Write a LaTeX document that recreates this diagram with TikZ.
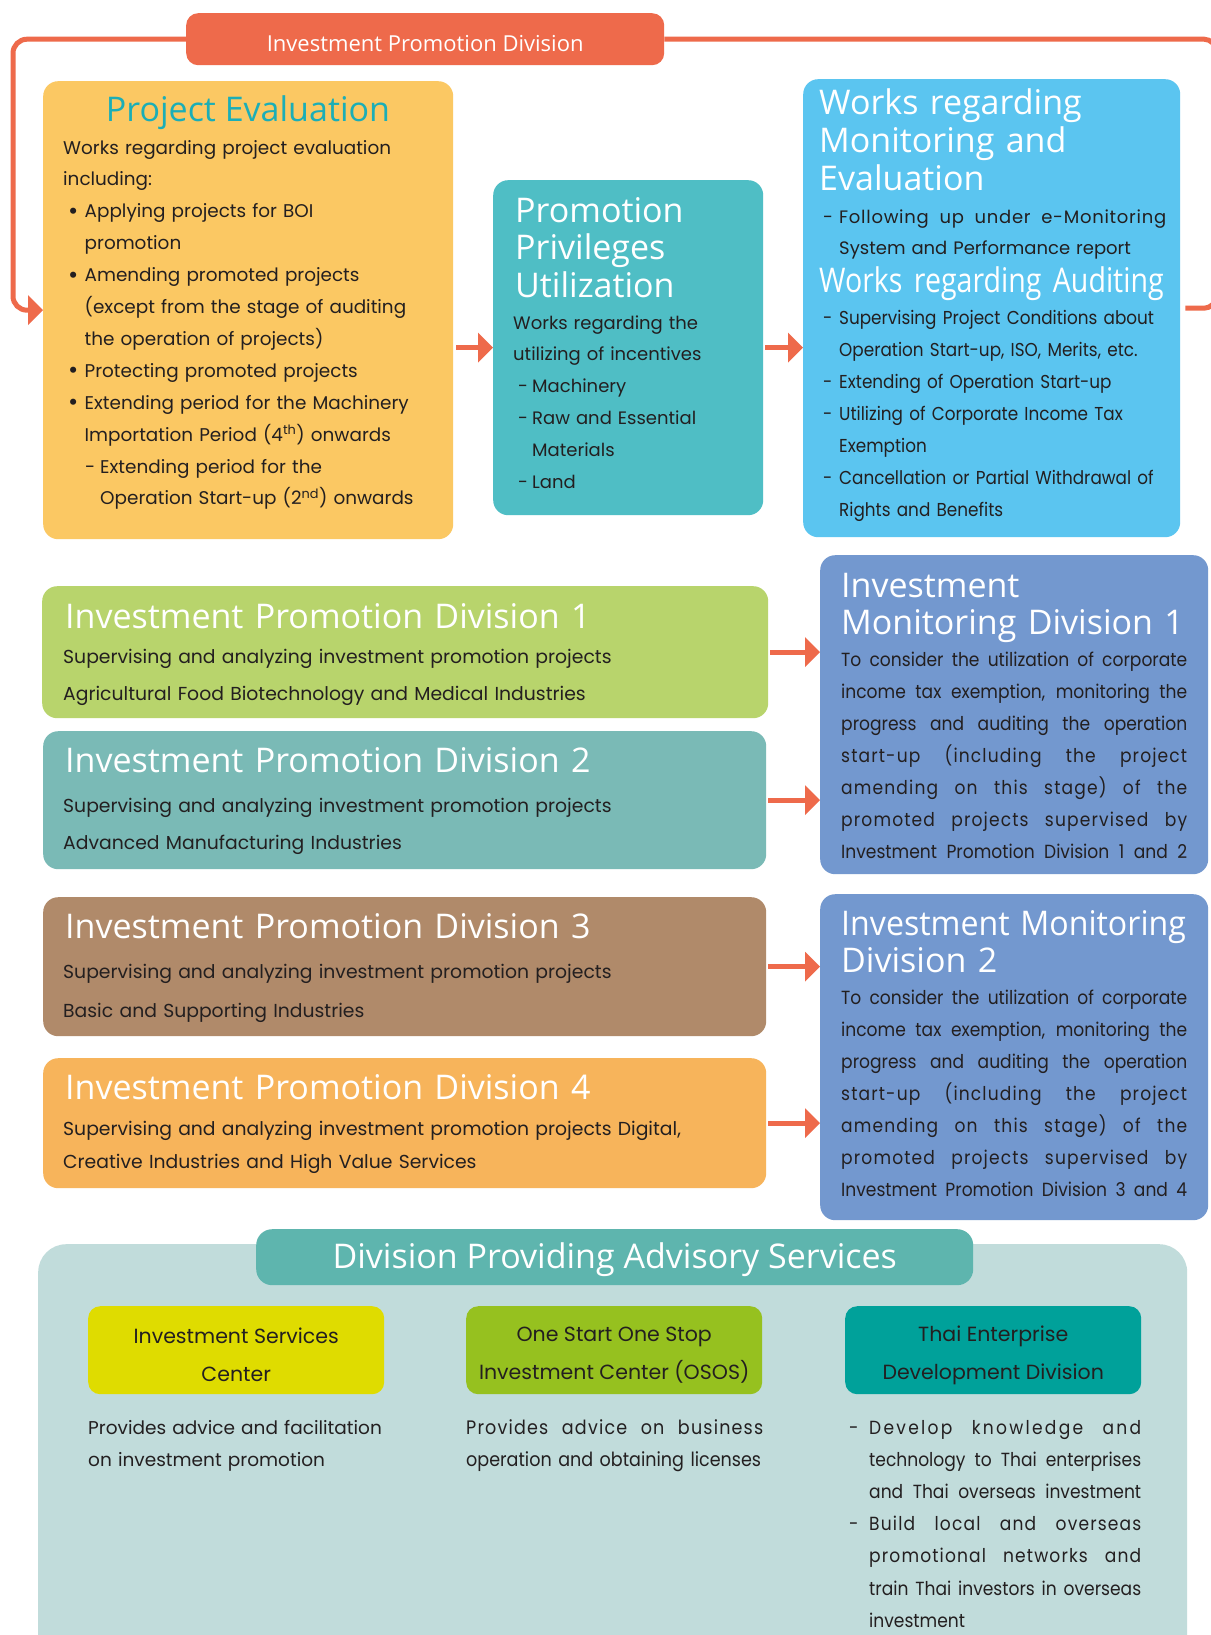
\documentclass[tikz,border=0pt]{standalone}
\usepackage{fontspec}
\setmainfont{Poppins}
\newfontfamily\headfont{Open Sans}
\newfontfamily\headcond[FakeStretch=0.84]{Open Sans}
\newfontfamily\bodycond[FakeStretch=0.9]{Poppins}
\newfontfamily\bodyspread[FakeStretch=0.9,LetterSpace=6]{Poppins}
\newfontfamily\bodywide[FakeStretch=0.9,LetterSpace=12]{Poppins}
\newfontfamily\plainspread[LetterSpace=4]{Poppins}
\usepackage{graphicx}
\usepackage{tikz}
\usetikzlibrary{arrows.meta,calc}
\definecolor{boired}{HTML}{EE6A4B}
\definecolor{evalyellow}{HTML}{FBC863}
\definecolor{evalteal}{HTML}{1BAEB7}
\definecolor{privteal}{HTML}{4FBEC5}
\definecolor{monblue}{HTML}{5BC5F0}
\definecolor{divgreen}{HTML}{B8D46C}
\definecolor{divteal}{HTML}{7ABAB6}
\definecolor{divbrown}{HTML}{B08A6A}
\definecolor{divorange}{HTML}{F7B45B}
\definecolor{imdblue}{HTML}{7398CF}
\definecolor{advbg}{HTML}{C1DCDB}
\definecolor{advhead}{HTML}{5EB5AE}
\definecolor{iscyellow}{HTML}{DFDC00}
\definecolor{ososgreen}{HTML}{96C11F}
\definecolor{teddteal}{HTML}{00A19A}
\definecolor{ink}{HTML}{231F20}
\newcommand{\fullline}[2]{\leavevmode\hbox to #1{\spaceskip=0.3em plus 1fil\xspaceskip=0.3em plus 1fil\relax #2}}
\newcommand{\itembullet}{\hspace*{5pt}\makebox[16.5pt][l]{\raisebox{-1.6pt}{\scalebox{1.35}{\textbullet}}}}
\tikzset{
  panel/.style={anchor=north west, rounded corners=15pt, inner sep=0pt},
  paneltitle/.style={anchor=base west, inner sep=0pt, align=left, text width=380pt, text=white, font=\headfont\fontsize{34}{37.5}\selectfont},
  paneltext/.style={anchor=base west, inner sep=0pt, align=left, text width=700pt, text=ink, font=\fontsize{18}{31.9}\selectfont},
  subbox/.style={panel, minimum width=296pt, minimum height=88pt, rounded corners=12pt, align=center, text=ink, font=\fontsize{20.5}{38}\selectfont},
  flow/.style={draw=boired, line width=5pt, -{Triangle[length=15pt,width=29pt]}},
}

\begin{document}
\begin{tikzpicture}[x=1pt,y=-1pt]
    \useasboundingbox[fill=white] (0,0) rectangle (1210,1635);

    % top row
    \path (186,13) node[panel, fill=boired, minimum width=478pt, minimum height=52pt, rounded corners=12pt, text=white, font=\headfont\fontsize{22}{26}\selectfont] (ipdbar) {\rule{0pt}{24pt}Investment Promotion Division};
    \path (43,81) node[panel, fill=evalyellow, minimum width=410pt, minimum height=458pt] (evalbox) {};
    \path (493,180) node[panel, fill=privteal, minimum width=270pt, minimum height=335pt] (privbox) {};
    \path (803,79) node[panel, fill=monblue, minimum width=377pt, minimum height=458pt] (monbox) {};

    \path (248,122) node[anchor=base, inner sep=0pt, text=evalteal, font=\headfont\fontsize{34}{37.5}\selectfont] (evaltitle) {Project Evaluation};
    \path (63,154) node[paneltext, font=\fontsize{18.4}{31.9}\selectfont] (evaltext) {Works regarding project evaluation\\
      including:\\
      \itembullet Applying projects for BOI\\
      \hspace*{21.5pt}promotion\\
      \itembullet Amending promoted projects\\
      \hspace*{21.5pt}(except from the stage of auditing\\
      \hspace*{21.5pt}the operation of projects)\\
      \itembullet Protecting promoted projects\\
      \itembullet Extending period for the Machinery\\
      \hspace*{21.5pt}Importation Period (4\textsuperscript{th}) onwards\\
      \hspace*{22pt}\makebox[15pt][l]{-}Extending period for the\\
      \hspace*{37pt}Operation Start-up (2\textsuperscript{nd}) onwards};

    \path (515,222) node[paneltitle] (privtitle) {Promotion\\Privileges\\Utilization};
    \path (513,329) node[paneltext] (privtext) {Works regarding the\\
      utilizing of incentives\\
      \hspace*{5pt}\makebox[14pt][l]{-}Machinery\\
      \hspace*{5pt}\makebox[14pt][l]{-}Raw and Essential\\
      \hspace*{19pt}Materials\\
      \hspace*{5pt}\makebox[14pt][l]{-}Land};

    \path (819,115) node[paneltitle] (montitle) {Works regarding\\Monitoring and\\Evaluation};
    \path (823,223) node[paneltext] (montext) {\makebox[16pt][l]{-}\fullline{327pt}{\plainspread Following up under e-Monitoring}\\
      \hspace*{16pt}System and Performance report};
    \path (819,292) node[paneltitle, font=\headcond\fontsize{34}{37.5}\selectfont] (audittitle) {Works regarding Auditing};
    \path (823,324) node[paneltext, font=\bodycond\fontsize{18.7}{32}\selectfont] (audittext) {\makebox[16pt][l]{-}Supervising Project Conditions about\\
      \hspace*{16pt}Operation Start-up, ISO, Merits, etc.\\
      \makebox[16pt][l]{-}Extending of Operation Start-up\\
      \makebox[16pt][l]{-}Utilizing of Corporate Income Tax\\
      \hspace*{16pt}Exemption\\
      \makebox[16pt][l]{-}Cancellation or Partial Withdrawal of\\
      \hspace*{16pt}Rights and Benefits};

    % promotion divisions
    \path (42,586) node[panel, fill=divgreen, minimum width=726pt, minimum height=132pt] (ipdone) {};
    \path (43,731) node[panel, fill=divteal, minimum width=723pt, minimum height=138pt] (ipdtwo) {};
    \path (43,897) node[panel, fill=divbrown, minimum width=723pt, minimum height=139pt] (ipdthree) {};
    \path (43,1058) node[panel, fill=divorange, minimum width=723pt, minimum height=130pt] (ipdfour) {};

    \path (65,628) node[paneltitle, text width=700pt] (ipdonetitle) {Investment Promotion Division 1};
    \path (63,663) node[paneltext, font=\fontsize{18.8}{37.5}\selectfont] (ipdonetext) {Supervising and analyzing investment promotion projects\\Agricultural Food Biotechnology and Medical Industries};
    \path (65,772) node[paneltitle, text width=700pt] (ipdtwotitle) {Investment Promotion Division 2};
    \path (63,812) node[paneltext, font=\fontsize{18.8}{37}\selectfont] (ipdtwotext) {Supervising and analyzing investment promotion projects\\Advanced Manufacturing Industries};
    \path (65,938) node[paneltitle, text width=700pt] (ipdthreetitle) {Investment Promotion Division 3};
    \path (63,978) node[paneltext, font=\fontsize{18.8}{39}\selectfont] (ipdthreetext) {Supervising and analyzing investment promotion projects\\Basic and Supporting Industries};
    \path (65,1099) node[paneltitle, text width=700pt] (ipdfourtitle) {Investment Promotion Division 4};
    \path (63,1135) node[paneltext, font=\fontsize{18.8}{33}\selectfont] (ipdfourtext) {Supervising and analyzing investment promotion projects Digital,\\Creative Industries and High Value Services};

    % monitoring divisions
    \path (820,555) node[panel, fill=imdblue, minimum width=388pt, minimum height=319pt] (imdone) {};
    \path (820,894) node[panel, fill=imdblue, minimum width=388pt, minimum height=326pt] (imdtwo) {};

    \path (841,597) node[paneltitle] (imdonetitle) {Investment\\Monitoring Division 1};
    \path (841,666) node[paneltext, font=\bodycond\fontsize{19}{32}\selectfont] (imdonetext) {\fullline{346pt}{To consider the utilization of corporate}\\
      \fullline{346pt}{income tax exemption, monitoring the}\\
      \fullline{346pt}{progress and auditing the operation}\\
      \fullline{346pt}{\bodyspread start-up (including the project}\\
      \fullline{346pt}{\bodyspread amending on this stage) of the}\\
      \fullline{346pt}{\bodyspread promoted projects supervised by}\\
      \fullline{346pt}{Investment Promotion Division 1 and 2}};
    \path (841,935) node[paneltitle] (imdtwotitle) {\scalebox{0.945}[1]{Investment Monitoring}\\Division 2};
    \path (841,1004) node[paneltext, font=\bodycond\fontsize{19}{32}\selectfont] (imdtwotext) {\fullline{346pt}{To consider the utilization of corporate}\\
      \fullline{346pt}{income tax exemption, monitoring the}\\
      \fullline{346pt}{progress and auditing the operation}\\
      \fullline{346pt}{\bodyspread start-up (including the project}\\
      \fullline{346pt}{\bodyspread amending on this stage) of the}\\
      \fullline{346pt}{\bodyspread promoted projects supervised by}\\
      \fullline{346pt}{Investment Promotion Division 3 and 4}};

    % advisory services
    \path (38,1244) node[panel, fill=advbg, minimum width=1149pt, minimum height=420pt, rounded corners=28pt] (advbox) {};
    \path (256,1229) node[panel, fill=advhead, minimum width=717pt, minimum height=56pt, rounded corners=16pt, text=white, font=\headfont\fontsize{34}{37.5}\selectfont] (advtitle) {\rule{0pt}{31pt}Division Providing Advisory Services};
    \path (88,1306) node[subbox, fill=iscyellow] (isc) {\rule{0pt}{25pt}Investment Services\\Center};
    \path (466,1306) node[subbox, fill=ososgreen] (osos) {\rule{0pt}{25pt}One Start One Stop\\Investment Center (OSOS)};
    \path (845,1306) node[subbox, fill=teddteal] (tedd) {\rule{0pt}{25pt}Thai Enterprise\\Development Division};

    \path (88,1434) node[paneltext, font=\fontsize{18.5}{32}\selectfont] (isctext) {Provides advice and facilitation\\on investment promotion};
    \path (466,1434) node[paneltext, font=\bodycond\fontsize{19.5}{32}\selectfont] (ososext) {\fullline{297pt}{\bodyspread Provides advice on business}\\operation and obtaining licenses};
    \path (849,1434) node[paneltext, font=\bodycond\fontsize{19}{32.2}\selectfont] (teddtext) {\makebox[20pt][l]{-}\fullline{272pt}{\bodywide Develop knowledge and}\\
      \hspace*{20pt}\fullline{272pt}{technology to Thai enterprises}\\
      \hspace*{20pt}\fullline{272pt}{and Thai overseas investment}\\
      \makebox[20pt][l]{-}\fullline{272pt}{\bodyspread Build local and overseas}\\
      \hspace*{20pt}\fullline{272pt}{\bodyspread promotional networks and}\\
      \hspace*{20pt}\fullline{272pt}{train Thai investors in overseas}\\
      \hspace*{20pt}investment};

    % connectors
    \draw[flow, rounded corners=14pt] (ipdbar.west) -| (13,200) |- (evalbox.west);
    \draw[draw=boired, line width=5pt, rounded corners=12pt, shorten >=5pt] (ipdbar.east) -| (1216,200) |- (monbox.east);
    \draw[flow, shorten <=3pt] (evalbox.east |- privbox.west) -- (privbox.west);
    \draw[flow, shorten <=2pt] (privbox.east) -- (monbox.west |- privbox.east);
    \draw[flow, shorten <=2pt] (ipdone.east) -- (imdone.west |- ipdone.east);
    \draw[flow, shorten <=2pt] (ipdtwo.east) -- (imdone.west |- ipdtwo.east);
    \draw[flow, shorten <=2pt] (ipdthree.east) -- (imdtwo.west |- ipdthree.east);
    \draw[flow, shorten <=2pt] (ipdfour.east) -- (imdtwo.west |- ipdfour.east);
\end{tikzpicture}
\end{document}
